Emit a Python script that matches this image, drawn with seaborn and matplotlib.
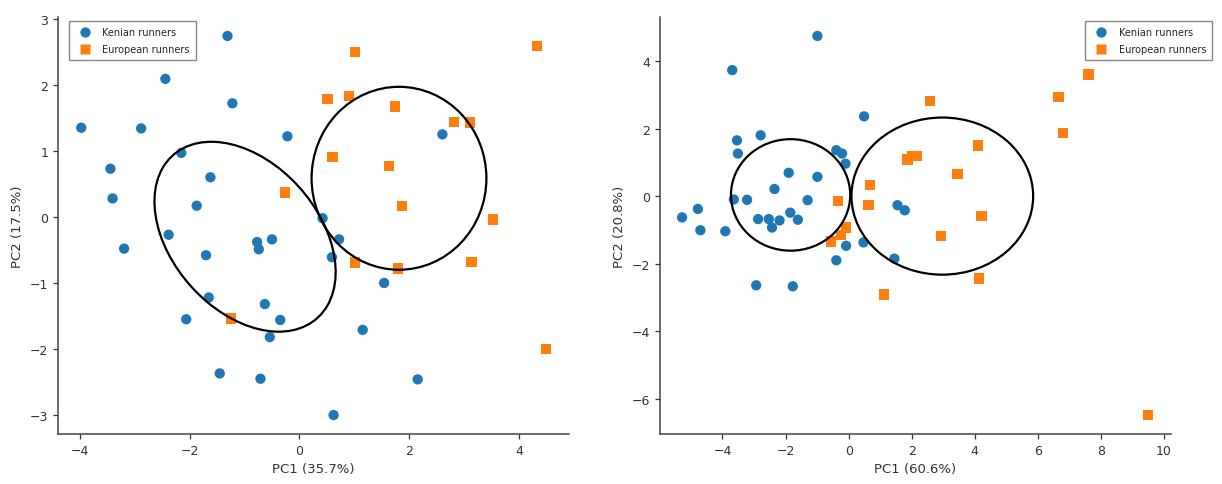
import pandas as pd
import matplotlib
matplotlib.use("Agg")
import matplotlib.pyplot as plt
from matplotlib.patches import Ellipse
import seaborn as sns

# left panel: PCA 1
left_kenian_pc1 = [-1.31, -2.44, -1.22, -3.97, -2.88, -0.22, 2.60, -2.15, -3.44, -1.62,
                   -3.40, -1.87, 0.42, -2.38, -3.19, -0.77, -0.74, -0.50, 0.72, -1.70,
                   0.59, 1.54, -1.65, -0.63, -2.06, -0.35, -0.54, 1.15, -1.45, -0.71,
                   2.15, 0.62]
left_kenian_pc2 = [2.74, 2.09, 1.72, 1.35, 1.34, 1.22, 1.25, 0.97, 0.73, 0.60,
                   0.28, 0.17, -0.02, -0.27, -0.48, -0.38, -0.49, -0.34, -0.34, -0.58,
                   -0.61, -1.00, -1.22, -1.32, -1.55, -1.56, -1.82, -1.71, -2.37, -2.45,
                   -2.46, -3.00]
left_european_pc1 = [1.01, 4.32, 0.51, 0.90, 1.74, 2.81, 3.10, 0.60, 1.63, -0.26,
                     1.87, 3.52, 1.01, 1.79, 3.13, -1.24, 4.48]
left_european_pc2 = [2.50, 2.59, 1.79, 1.83, 1.67, 1.44, 1.43, 0.91, 0.77, 0.37,
                     0.16, -0.04, -0.69, -0.78, -0.68, -1.54, -2.00]

# right panel: PCA 2
right_kenian_pc1 = [-0.99, -3.69, 0.49, -2.79, -3.54, -3.51, -0.39, -0.21, -0.10, -1.90,
                    -0.99, -2.35, -3.64, -3.22, -1.30, 1.55, 1.78, -5.28, -4.78, -2.87,
                    -2.53, -2.19, -1.61, -1.85, -2.43, -4.70, -3.91, -0.08, 0.47, -0.39,
                    1.45, -2.93, -1.77]
right_kenian_pc2 = [4.74, 3.73, 2.36, 1.80, 1.65, 1.26, 1.36, 1.26, 0.96, 0.69,
                    0.57, 0.21, -0.10, -0.11, -0.12, -0.27, -0.42, -0.63, -0.38, -0.68,
                    -0.68, -0.72, -0.70, -0.49, -0.93, -1.01, -1.04, -1.47, -1.37, -1.90,
                    -1.85, -2.64, -2.67]
right_european_pc1 = [7.60, 6.65, 2.57, 6.80, 4.11, 2.01, 2.16, 1.87, 3.45, 0.68,
                      -0.33, 0.63, 4.21, -0.09, -0.25, -0.56, 2.92, 4.13, 1.13, 9.49]
right_european_pc2 = [3.60, 2.94, 2.81, 1.87, 1.50, 1.18, 1.19, 1.08, 0.65, 0.32,
                      -0.14, -0.27, -0.58, -0.93, -1.16, -1.34, -1.19, -2.44, -2.91, -6.48]

# ellipses: (center x, center y, width, height, angle)
left_ellipses = [(-0.99, -0.30, 3.65, 2.41, -34.9), (1.81, 0.585, 3.18, 2.77, 0.0)]
right_ellipses = [(-1.84, 0.035, 3.78, 3.30, 0.0), (2.97, 0.0, 5.76, 4.65, 0.0)]

groups = ["Kenian runners", "European runners"]
axis_labels = [("PC1 (35.7%)", "PC2 (17.5%)"), ("PC1 (60.6%)", "PC2 (20.8%)")]


def make_df(k1, k2, e1, e2):
    return pd.DataFrame({
        "pc1": k1 + e1,
        "pc2": k2 + e2,
        "group": [groups[0]] * len(k1) + [groups[1]] * len(e1),
    })


panels = [
    make_df(left_kenian_pc1, left_kenian_pc2, left_european_pc1, left_european_pc2),
    make_df(right_kenian_pc1, right_kenian_pc2, right_european_pc1, right_european_pc2),
]
ellipses = [left_ellipses, right_ellipses]

sns.set_style("ticks")
plt.rcParams["font.family"] = ["DejaVu Sans"]

fig = plt.figure(figsize=(12.22, 4.85), dpi=100)
ax_l = fig.add_axes([58 / 1222, 1 - 435 / 485, 511 / 1222, 417 / 485])
ax_r = fig.add_axes([660 / 1222, 1 - 435 / 485, 511 / 1222, 417 / 485])

palette = {groups[0]: "#1f77b4", groups[1]: "#ff7f0e"}
markers = {groups[0]: "o", groups[1]: "s"}

for ax, df, ells, (xl, yl) in zip([ax_l, ax_r], panels, ellipses, axis_labels):
    sns.scatterplot(data=df, x="pc1", y="pc2", hue="group", style="group",
                    palette=palette, markers=markers, hue_order=groups,
                    style_order=groups, s=55, edgecolor="none", ax=ax)
    for cx, cy, w, h, a in ells:
        ax.add_patch(Ellipse((cx, cy), w, h, angle=a, fill=False,
                             edgecolor="black", lw=1.6))
    ax.set_xlabel(xl, fontsize=9.5, color="#333333")
    ax.set_ylabel(yl, fontsize=9.5, color="#333333")
    ax.tick_params(labelsize=9, colors="#333333", width=0.9, length=3.5)
    for sp in ["left", "bottom"]:
        ax.spines[sp].set_color("#444444")
        ax.spines[sp].set_linewidth(1.1)
    sns.despine(ax=ax)

# right panel starts just inside -6, so no -6 tick
ax_r.set_xlim(-5.98, 10.22)

leg_kw = dict(borderaxespad=0, fontsize=7, fancybox=False, edgecolor="#888888",
              framealpha=1, borderpad=0.6, labelspacing=0.75)
h, l = ax_l.get_legend_handles_labels()
ax_l.legend(h, l, loc="upper left", bbox_to_anchor=(0.022, 0.99), **leg_kw)
h, l = ax_r.get_legend_handles_labels()
ax_r.legend(h, l, loc="upper right", bbox_to_anchor=(1.08, 0.99), **leg_kw)

fig.savefig("out.png", dpi=100)
